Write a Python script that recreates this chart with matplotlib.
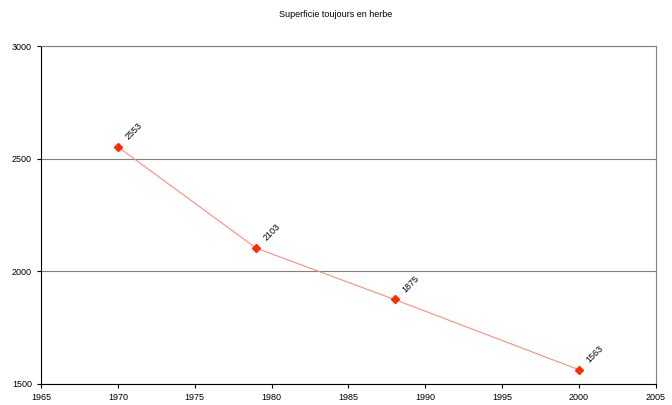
import matplotlib
matplotlib.use("Agg")
import matplotlib.pyplot as plt

plt.rcParams['font.family'] = ['Liberation Sans', 'DejaVu Sans']

years = [1970, 1979, 1988, 2000]
surface = [2553, 2103, 1875, 1563]
labels = ['2553', '2103', '1875', '1563']

fig = plt.figure(figsize=(6.72, 4.05), dpi=100)
ax = fig.add_axes([0.061, 0.052, 0.915, 0.834])

ax.plot(years, surface, color='#ff8c7a', linewidth=0.8, zorder=2)
ax.plot(years, surface, linestyle='none', marker='D', markersize=4,
        color='#ff2a00', zorder=3)

for x, y, t in zip(years, surface, labels):
    ax.annotate(t, (x, y), xytext=(4, 4), textcoords='offset points',
                rotation=45, fontsize=6.5, ha='left', va='bottom')

ax.set_xlim(1965, 2005)
ax.set_ylim(1500, 3000)
ax.set_xticks(range(1965, 2006, 5))
ax.set_yticks([1500, 2000, 2500, 3000])
ax.yaxis.grid(True, color='#808080', linewidth=0.8)
ax.set_axisbelow(True)

for s in ['top', 'right']:
    ax.spines[s].set_color('#808080')
for s in ['left', 'bottom']:
    ax.spines[s].set_color('black')
ax.tick_params(labelsize=6.5, length=3, width=0.8, direction='out')

fig.suptitle('Superficie toujours en herbe', y=0.975, fontsize=6.5)

fig.savefig('out.png', dpi=100)
